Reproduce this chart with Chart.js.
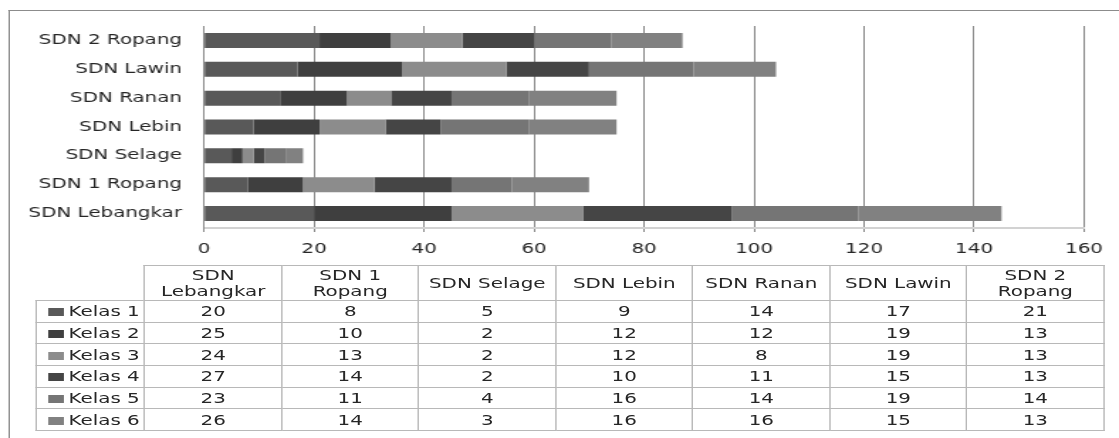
<!DOCTYPE html>
<html>
<head>
<meta charset="utf-8">
<script src="https://cdn.jsdelivr.net/npm/chart.js@4/dist/chart.umd.min.js"></script>
<style>
  html, body { margin: 0; padding: 0; background: #fff; overflow: hidden; }
  /* the reference is a horizontally stretched picture: draw narrow, then stretch */
  #stage {
    position: absolute; left: 0; top: 0;
    width: 788px; height: 438px;
    transform: scaleX(1.42); transform-origin: 0 0;
    font-family: "DejaVu Sans", sans-serif; color: #262626;
  }
  #frame {
    position: absolute; left: 5.6px; top: 10px; width: 800px; height: 440px;
    border-top: 1.5px solid #8c8c8c; border-left: 1px solid #8c8c8c;
  }
  #chart-box { position: absolute; left: 0; top: 0; width: 788px; height: 262px; }
  #data-table {
    position: absolute; left: 24.6px; top: 265px;
    border-collapse: collapse; table-layout: fixed;
    font-size: 14px; color: #262626;
  }
  #data-table td {
    border: 1px solid #b8b8b8; text-align: center; padding: 0;
    height: 20.7px; line-height: 16px; white-space: normal;
  }
  #data-table tr.head td { height: 34px; }
  #data-table td.corner { border: none; }
  #data-table td.key { text-align: right; padding-right: 3px; white-space: nowrap; }
  .swatch { display: inline-block; width: 11px; height: 8px; margin-right: 3px; vertical-align: 0px; }
</style>
</head>
<body>
<div id="stage">
  <div id="frame"></div>
  <div id="chart-box"><canvas id="bar-canvas"></canvas></div>
  <table id="data-table">
    <colgroup id="cols"></colgroup>
    <tbody id="table-body"></tbody>
  </table>
</div>
<script>
// schools (table order, first one drawn at the bottom of the chart)
const categories = ["SDN Lebangkar", "SDN 1 Ropang", "SDN Selage", "SDN Lebin", "SDN Ranan", "SDN Lawin", "SDN 2 Ropang"];

const seriesNames = ["Kelas 1", "Kelas 2", "Kelas 3", "Kelas 4", "Kelas 5", "Kelas 6"];
const kelas1 = [20, 8, 5, 9, 14, 17, 21];
const kelas2 = [25, 10, 2, 12, 12, 19, 13];
const kelas3 = [24, 13, 2, 12, 8, 19, 13];
const kelas4 = [27, 14, 2, 10, 11, 15, 13];
const kelas5 = [23, 11, 4, 16, 14, 19, 14];
const kelas6 = [26, 14, 3, 16, 16, 15, 13];
const seriesColors = ["#595959", "#3f3f3f", "#8c8c8c", "#454545", "#757575", "#818181"];

const xMin = 0;
const xMax = 160;
const xStep = 20;

const allSeries = [kelas1, kelas2, kelas3, kelas4, kelas5, kelas6];

// chart area in stage units (before the stretch)
const plotLeft = 143.7;
const plotRight = 763.4;
const plotTop = 26;
const plotBottom = 228;
const boxWidth = 788;
const boxHeight = 262;

const ctx = document.getElementById("bar-canvas").getContext("2d");

new Chart(ctx, {
  type: "bar",
  data: {
    labels: categories,
    datasets: allSeries.map((values, i) => ({
      label: seriesNames[i],
      data: values,
      backgroundColor: seriesColors[i],
      borderWidth: 0,
      barPercentage: 0.52,
      categoryPercentage: 1,
    })),
  },
  options: {
    indexAxis: "y",
    responsive: true,
    maintainAspectRatio: false,
    animation: false,
    layout: {
      padding: { left: 0, top: plotTop, right: boxWidth - plotRight, bottom: 0 },
    },
    plugins: {
      legend: { display: false },
      tooltip: { enabled: false },
    },
    scales: {
      x: {
        stacked: true,
        min: xMin,
        max: xMax,
        ticks: {
          stepSize: xStep,
          color: "#262626",
          padding: 9,
          font: { family: "DejaVu Sans", size: 14 },
        },
        grid: {
          color: "#878787",
          lineWidth: 1,
          tickLength: 4,
        },
        border: { color: "#d2d2d2", width: 2 },
        afterFit: (scale) => {
          scale.height = boxHeight - plotBottom;
        },
      },
      y: {
        stacked: true,
        reverse: true,
        ticks: {
          color: "#262626",
          padding: 15.5,
          font: { family: "DejaVu Sans", size: 14 },
        },
        grid: { display: false, drawTicks: false },
        border: { color: "#878787", width: 1 },
        afterFit: (scale) => {
          scale.width = plotLeft;
        },
      },
    },
  },
});

// data table under the chart
const cols = document.getElementById("cols");
const keyCol = document.createElement("col");
keyCol.style.width = "76.8px";
cols.appendChild(keyCol);
categories.forEach(() => {
  const c = document.createElement("col");
  c.style.width = "96.5px";
  cols.appendChild(c);
});

const body = document.getElementById("table-body");
const head = document.createElement("tr");
head.className = "head";
head.innerHTML = '<td class="corner"></td>' + categories.map((c) => `<td>${c}</td>`).join("");
body.appendChild(head);

allSeries.forEach((values, i) => {
  const row = document.createElement("tr");
  row.innerHTML =
    `<td class="key"><span class="swatch" style="background:${seriesColors[i]}"></span>${seriesNames[i]}</td>` +
    values.map((v) => `<td>${v}</td>`).join("");
  body.appendChild(row);
});
</script>
</body>
</html>
